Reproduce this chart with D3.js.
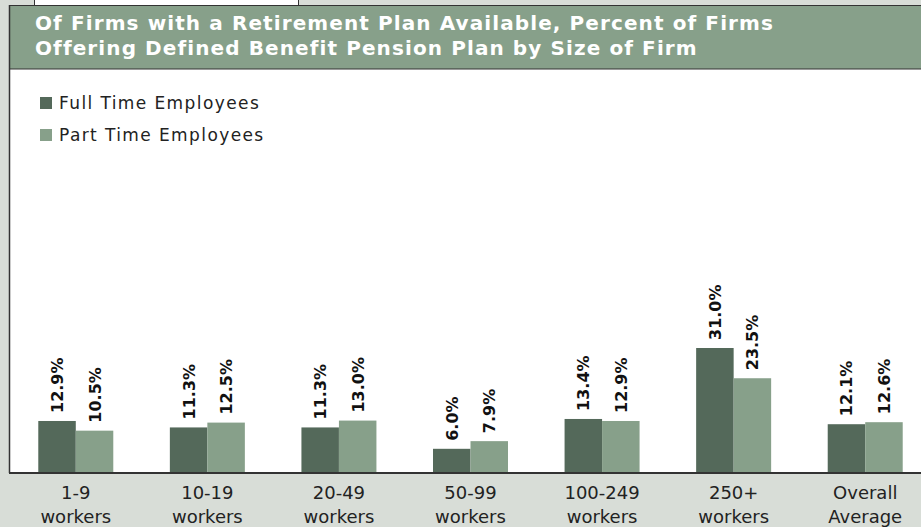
<!DOCTYPE html>
<meta charset="utf-8">
<html>
<head>
    <title>Defined Benefit Pension Plan by Size of Firm</title>
</head>
<style>
    *{ margin:0; padding:0;}
    body{ background:#D8DDD7; overflow:hidden;}
    text{ font-family:'DejaVu Sans', Verdana, sans-serif;}
</style>
<script src="https://cdn.jsdelivr.net/npm/d3@7"></script>
<div id="chartContainer"></div>
<script type="text/javascript">

    var categories = ["1-9|workers", "10-19|workers", "20-49|workers", "50-99|workers",
                      "100-249|workers", "250+|workers", "Overall|Average"];
    var fullTime = [12.9, 11.3, 11.3, 6.0, 13.4, 31.0, 12.1];
    var partTime = [10.5, 12.5, 13.0, 7.9, 12.9, 23.5, 12.6];
    var seriesNames = ["Full Time Employees", "Part Time Employees"];
    var titleLines = ["Of Firms with a Retirement Plan Available, Percent of Firms",
                      "Offering Defined Benefit Pension Plan by Size of Firm"];

    var colors = ["#54695A", "#87A08A"];
    var W = 921, H = 527;
    var baseY = 473;

    var svg = d3.select("#chartContainer").append("svg")
        .attr("width", W).attr("height", H);

    // background pieces
    svg.append("rect").attr("x", 0).attr("y", 0).attr("width", W).attr("height", H).attr("fill", "#D8DDD7");
    svg.append("rect").attr("x", 34.5).attr("y", -10).attr("width", 264).attr("height", 15.5)
        .attr("fill", "#fff").attr("stroke", "#333").attr("stroke-width", 1);
    svg.append("rect").attr("x", 9.5).attr("y", 69).attr("width", W).attr("height", baseY - 69)
        .attr("fill", "#fff");
    svg.append("rect").attr("x", 9.5).attr("y", 5.5).attr("width", W).attr("height", 63.5)
        .attr("fill", "#87A08A").attr("stroke", "#333").attr("stroke-width", 1);
    svg.append("line").attr("x1", 9.5).attr("x2", 9.5).attr("y1", 5).attr("y2", baseY)
        .attr("stroke", "#333").attr("stroke-width", 1.5);

    svg.selectAll(".title").data(titleLines).enter().append("text")
        .attr("x", 35).attr("y", function (d, i) { return 30 + i * 24.5; })
        .attr("fill", "#fff").style("font-weight", "bold").style("font-size", "20px")
        .style("letter-spacing", "1.1px")
        .text(function (d) { return d; });

    // legend
    var legend = svg.selectAll(".legend").data(seriesNames).enter().append("g")
        .attr("transform", function (d, i) { return "translate(40," + (97 + i * 32) + ")"; });
    legend.append("rect").attr("width", 12).attr("height", 12)
        .attr("fill", function (d, i) { return colors[i]; });
    legend.append("text").attr("x", 19).attr("y", 11.5)
        .style("font-size", "17px").style("letter-spacing", "1.4px").attr("fill", "#222")
        .text(function (d) { return d; });

    // scales
    var x = d3.scaleBand().domain(categories).range([10, 931]);
    var y = d3.scaleLinear().domain([0, 31]).range([baseY, 348]);
    var barW = 37.5;

    var groups = svg.selectAll(".grp").data(categories).enter().append("g")
        .attr("transform", function (d) { return "translate(" + (x(d) + x.bandwidth() / 2) + ",0)"; });

    [fullTime, partTime].forEach(function (vals, s) {
        groups.append("rect")
            .attr("x", s === 0 ? -barW : 0)
            .attr("width", barW)
            .attr("y", function (d, i) { return y(vals[i]); })
            .attr("height", function (d, i) { return baseY - y(vals[i]); })
            .attr("fill", colors[s]);
        groups.append("text")
            .attr("transform", function (d, i) {
                return "translate(" + ((s === 0 ? -barW / 2 : barW / 2) + 6) + "," + (y(vals[i]) - 8) + ") rotate(-90)";
            })
            .style("font-weight", "bold").style("font-size", "16px").attr("fill", "#111")
            .text(function (d, i) { return vals[i].toFixed(1) + "%"; });
    });

    // axis line
    svg.append("line").attr("x1", 9).attr("x2", W).attr("y1", baseY).attr("y2", baseY)
        .attr("stroke", "#333").attr("stroke-width", 2);

    // x labels
    groups.each(function (d) {
        var parts = d.split("|");
        d3.select(this).selectAll(".xl").data(parts).enter().append("text")
            .attr("y", function (p, i) { return 499 + i * 24; })
            .attr("text-anchor", "middle")
            .style("font-size", "18px").attr("fill", "#222")
            .text(function (p) { return p; });
    });
</script>
</html>
